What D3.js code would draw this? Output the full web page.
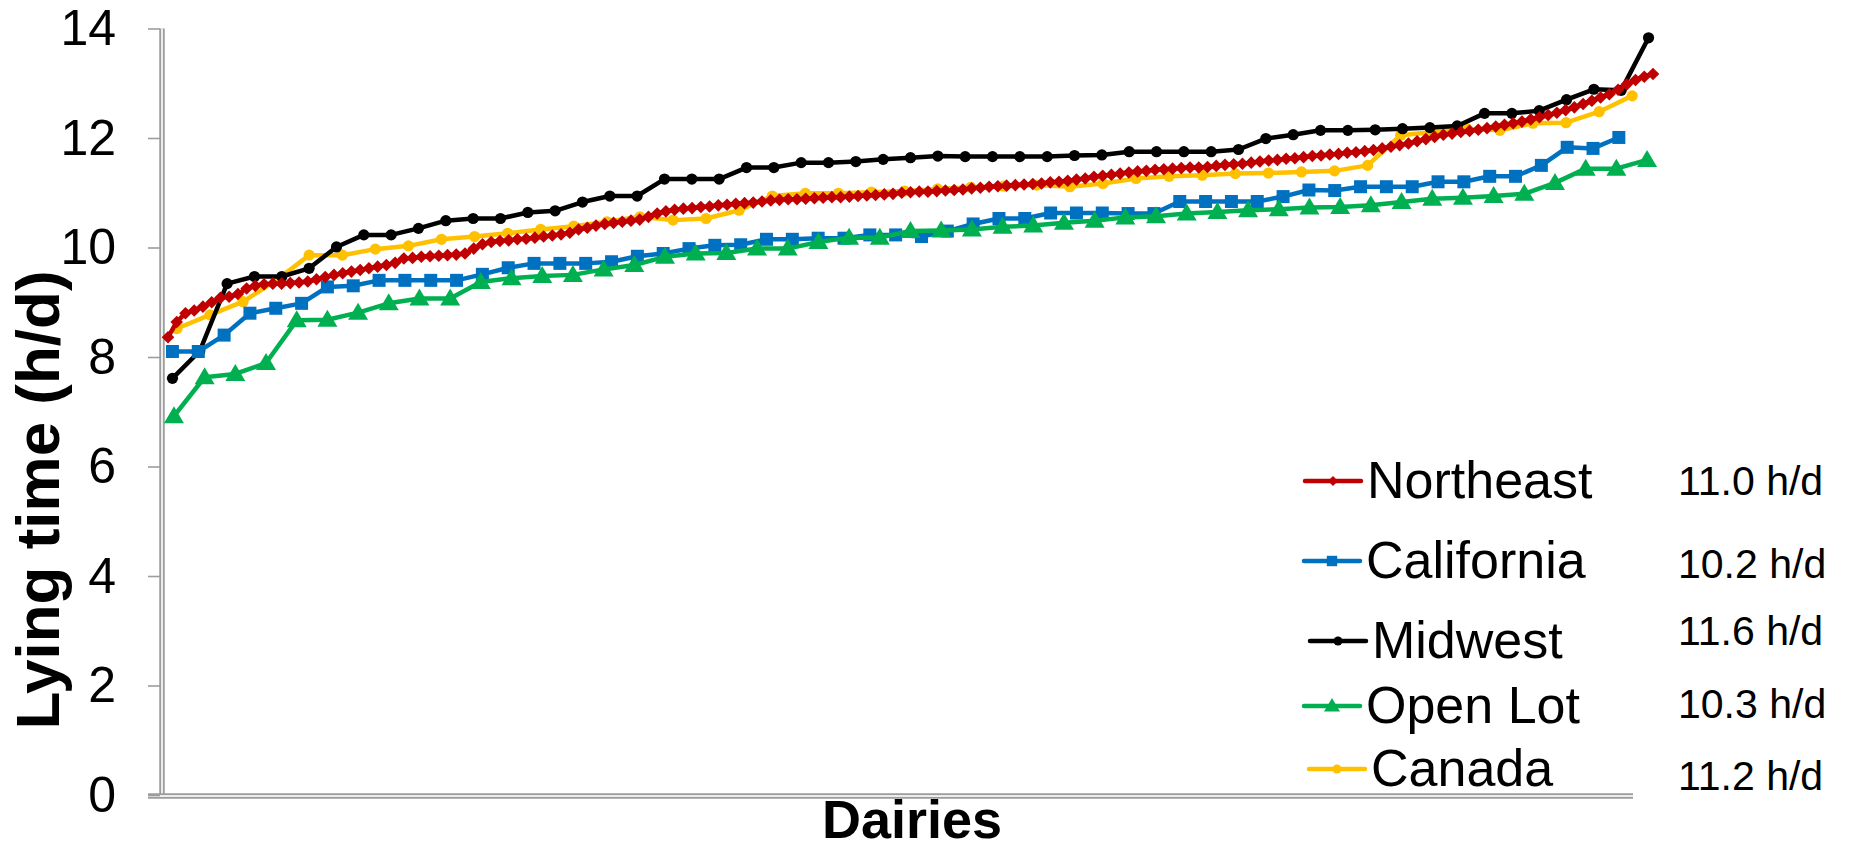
<!DOCTYPE html>
<html>
<head>
<meta charset="UTF-8">
<style>
  body { margin: 0; background: #fff; }
  svg { display: block; font-family: "Liberation Sans", Arial, sans-serif; }
</style>
<script src="https://cdn.jsdelivr.net/npm/d3@7/dist/d3.min.js"></script>
</head>
<body>
<script>
// series names (legend order) and the mean lying time printed beside each
var seriesNames = ["Northeast", "California", "Midwest", "Open Lot", "Canada"];
var meanLabels = ["11.0 h/d", "10.2 h/d", "11.6 h/d", "10.3 h/d", "11.2 h/d"];

// lying time (h/d) per dairy, sorted ascending within each region
var northeast = [8.36, 8.64, 8.80, 8.85, 8.92, 9.00, 9.08, 9.10, 9.15, 9.25,
  9.30, 9.33, 9.34, 9.34, 9.35, 9.36, 9.38, 9.42, 9.46, 9.50,
  9.53, 9.56, 9.59, 9.62, 9.65, 9.68, 9.72, 9.80, 9.81, 9.83,
  9.84, 9.85, 9.86, 9.87, 9.89, 9.98, 10.06, 10.10, 10.12, 10.13,
  10.15, 10.16, 10.18, 10.20, 10.22, 10.24, 10.27, 10.33, 10.36, 10.40,
  10.43, 10.45, 10.47, 10.49, 10.51, 10.56, 10.62, 10.66, 10.69, 10.71,
  10.72, 10.74, 10.75, 10.77, 10.78, 10.80, 10.81, 10.82, 10.84, 10.86,
  10.87, 10.88, 10.88, 10.89, 10.90, 10.91, 10.92, 10.92, 10.93, 10.94,
  10.95, 10.96, 10.97, 10.98, 11.00, 11.01, 11.02, 11.02, 11.03, 11.04,
  11.05, 11.06, 11.08, 11.09, 11.11, 11.12, 11.13, 11.14, 11.15, 11.16,
  11.17, 11.19, 11.20, 11.22, 11.24, 11.26, 11.29, 11.31, 11.33, 11.35,
  11.37, 11.39, 11.40, 11.42, 11.43, 11.44, 11.45, 11.46, 11.46, 11.47,
  11.49, 11.51, 11.52, 11.53, 11.55, 11.57, 11.59, 11.60, 11.62, 11.63,
  11.65, 11.67, 11.68, 11.70, 11.71, 11.73, 11.74, 11.76, 11.78, 11.81,
  11.84, 11.87, 11.90, 11.94, 11.98, 12.02, 12.06, 12.08, 12.11, 12.13,
  12.15, 12.18, 12.21, 12.24, 12.27, 12.30, 12.34, 12.38, 12.42, 12.46,
  12.51, 12.56, 12.62, 12.68, 12.74, 12.80, 12.88, 12.98, 13.06, 13.12,
  13.17];
var california = [8.10, 8.10, 8.40, 8.80, 8.89, 8.98, 9.28, 9.30, 9.40, 9.40,
  9.40, 9.40, 9.51, 9.63, 9.71, 9.71, 9.71, 9.74, 9.84, 9.89,
  9.98, 10.04, 10.05, 10.15, 10.15, 10.17, 10.17, 10.23, 10.23, 10.20,
  10.30, 10.43, 10.53, 10.53, 10.63, 10.63, 10.63, 10.62, 10.62, 10.84,
  10.84, 10.84, 10.84, 10.93, 11.05, 11.04, 11.11, 11.11, 11.11, 11.20,
  11.20, 11.30, 11.30, 11.50, 11.83, 11.81, 12.01];
var midwest = [7.61, 8.11, 9.34, 9.47, 9.47, 9.62, 10.01, 10.23, 10.23, 10.35,
  10.49, 10.53, 10.53, 10.64, 10.67, 10.83, 10.94, 10.94, 11.25, 11.25,
  11.25, 11.46, 11.46, 11.55, 11.55, 11.57, 11.61, 11.64, 11.67, 11.66,
  11.66, 11.66, 11.66, 11.68, 11.69, 11.75, 11.75, 11.75, 11.75, 11.79,
  11.99, 12.06, 12.14, 12.14, 12.15, 12.17, 12.19, 12.22, 12.45, 12.45,
  12.50, 12.70, 12.89, 12.87, 13.83];
var openLot = [6.92, 7.63, 7.69, 7.89, 8.67, 8.68, 8.81, 8.98, 9.07, 9.07,
  9.37, 9.44, 9.48, 9.50, 9.60, 9.68, 9.83, 9.89, 9.90, 9.98,
  9.98, 10.10, 10.18, 10.18, 10.30, 10.31, 10.33, 10.38, 10.40, 10.45,
  10.49, 10.55, 10.57, 10.62, 10.65, 10.68, 10.70, 10.73, 10.74, 10.77,
  10.83, 10.89, 10.91, 10.94, 10.98, 11.18, 11.44, 11.44, 11.60];
var canada = [8.52, 8.77, 9.01, 9.40, 9.86, 9.86, 9.97, 10.03, 10.15, 10.20,
  10.26, 10.33, 10.39, 10.47, 10.56, 10.50, 10.53, 10.68, 10.94, 10.99,
  10.99, 11.01, 11.03, 11.07, 11.10, 11.12, 11.14, 11.11, 11.17, 11.26,
  11.30, 11.32, 11.35, 11.36, 11.38, 11.40, 11.50, 12.05, 12.11, 12.17,
  12.14, 12.27, 12.28, 12.48, 12.77];

// first and last dairy of each region on the shared 0-100 rank axis
var rankStart = [0, 0.3, 0.3, 0.4, 0.6];
var rankEnd = [100, 97.7, 99.7, 99.6, 98.6];

var yTicks = [0, 2, 4, 6, 8, 10, 12, 14];

var W = 1851, H = 866;
var colors = ["#C00000", "#0070C0", "#000000", "#00B050", "#FFC000"];
var shapes = ["diamond", "square", "circle", "triangle", "circle"];
var markerR = [6.3, 6.5, 5.6, 10, 5.6];

var svg = d3.select("body").append("svg")
  .attr("width", W)
  .attr("height", H);

var x = d3.scaleLinear().domain([0, 100]).range([168, 1653]);
var y = d3.scaleLinear().domain([0, 14]).range([795, 28.5]);

function markerPath(shape, r) {
  if (shape == "diamond") return "M0," + (-r) + "L" + r + ",0L0," + r + "L" + (-r) + ",0Z";
  if (shape == "square") return "M" + (-r) + "," + (-r) + "h" + (2 * r) + "v" + (2 * r) + "h" + (-2 * r) + "Z";
  if (shape == "triangle") return "M0," + (-r) + "L" + r + "," + (r * 0.7) + "L" + (-r) + "," + (r * 0.7) + "Z";
  return "M" + (-r) + ",0A" + r + "," + r + " 0 1,0 " + r + ",0A" + r + "," + r + " 0 1,0 " + (-r) + ",0Z";
}

// axes: grey double rule like the original
var axisG = svg.append("g");
function rule(x1, y1, x2, y2) {
  axisG.append("line").attr("x1", x1).attr("y1", y1).attr("x2", x2).attr("y2", y2)
    .attr("stroke", "#9d9d9d").attr("stroke-width", 5.5);
  axisG.append("line").attr("x1", x1).attr("y1", y1).attr("x2", x2).attr("y2", y2)
    .attr("stroke", "#ececec").attr("stroke-width", 2);
}
rule(162, 28.5, 162, 797);
rule(148, 796, 1633, 796);

var yAxis = svg.append("g")
  .attr("transform", "translate(160,0)")
  .call(d3.axisLeft(y).tickValues(yTicks).tickSize(12).tickPadding(32));
yAxis.select(".domain").remove();
yAxis.selectAll(".tick line").attr("stroke", "#9d9d9d").attr("stroke-width", 1.6);
yAxis.selectAll(".tick text")
  .attr("font-size", 50)
  .attr("font-family", "Liberation Sans, Arial, sans-serif")
  .attr("fill", "#000");

svg.append("text")
  .attr("transform", "translate(59,500) rotate(-90)")
  .attr("text-anchor", "middle")
  .attr("font-size", 62)
  .attr("font-weight", "bold")
  .text("Lying time (h/d)");

svg.append("text")
  .attr("x", 912)
  .attr("y", 838)
  .attr("text-anchor", "middle")
  .attr("font-size", 54)
  .attr("font-weight", "bold")
  .text("Dairies");

// series
var allSeries = [northeast, california, midwest, openLot, canada];
var drawOrder = [4, 2, 1, 3, 0];

drawOrder.forEach(function(k) {
  var vals = allSeries[k];
  var n = vals.length;
  var pts = vals.map(function(v, i) {
    return [rankStart[k] + (rankEnd[k] - rankStart[k]) * i / (n - 1), v];
  });
  var g = svg.append("g");
  g.append("path")
    .datum(pts)
    .attr("fill", "none")
    .attr("stroke", colors[k])
    .attr("stroke-width", 4.5)
    .attr("stroke-linejoin", "round")
    .attr("d", d3.line().x(function(d) { return x(d[0]); }).y(function(d) { return y(d[1]); }));
  g.selectAll(".m")
    .data(pts)
    .enter().append("path")
    .attr("transform", function(d) { return "translate(" + x(d[0]) + "," + y(d[1]) + ")"; })
    .attr("d", markerPath(shapes[k], markerR[k]))
    .attr("fill", colors[k]);
});

// legend
var legY = [481, 561, 641, 706, 769];
var legX = [1305, 1304, 1310, 1304, 1309];
var meanBase = [495, 578, 645, 718, 790];
var leg = svg.append("g");
seriesNames.forEach(function(name, k) {
  var g = leg.append("g").attr("transform", "translate(" + legX[k] + "," + legY[k] + ")");
  g.append("line").attr("x1", 0).attr("x2", 56).attr("y1", 0).attr("y2", 0)
    .attr("stroke", colors[k]).attr("stroke-width", 4.5).attr("stroke-linecap", "round");
  g.append("path").attr("transform", "translate(28,0)")
    .attr("d", markerPath(shapes[k], markerR[k] * 0.8))
    .attr("fill", colors[k]);
  g.append("text").attr("x", 62).attr("y", 17)
    .attr("font-size", 52)
    .text(name);
  leg.append("text").attr("x", 1678).attr("y", meanBase[k])
    .attr("font-size", 41)
    .text(meanLabels[k]);
});
</script>
</body>
</html>
